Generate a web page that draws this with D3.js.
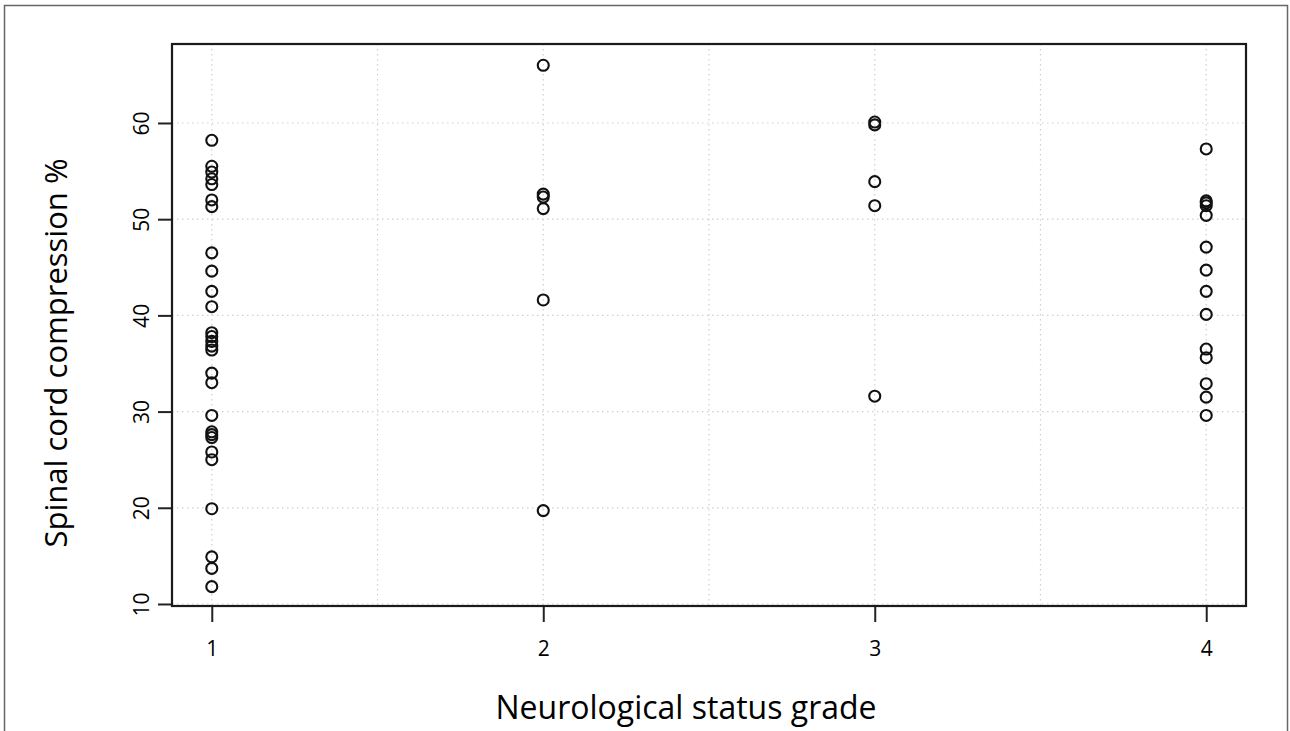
<!DOCTYPE html>
<html>
<head>
<meta charset="utf-8">
<script src="https://cdn.jsdelivr.net/npm/d3@7"></script>
<style>
  body { margin: 0; background: #fff; }
  svg { display: block; }
  .tick text { font-family: "Open Sans", "DejaVu Sans", sans-serif; }
</style>
</head>
<body>
<div class="chart"></div>
<script>
// neurological grade per point, and compression %
var grade1 = [58.2, 55.5, 54.9, 54.2, 53.6, 52.0, 51.3, 46.5, 44.6, 42.5, 40.9,
              38.2, 37.8, 37.3, 36.8, 36.4, 34.0, 33.0, 29.6, 27.9, 27.6, 27.3,
              25.8, 25.0, 19.9, 14.9, 13.7, 11.8];
var grade2 = [66.0, 52.6, 52.3, 51.1, 41.6, 19.7];
var grade3 = [60.1, 59.8, 53.9, 51.4, 31.6];
var grade4 = [57.3, 51.9, 51.7, 51.4, 50.4, 47.1, 44.7, 42.5, 40.1, 36.5, 35.6,
              32.9, 31.5, 29.6];

var xTicks = [1, 2, 3, 4];
var yTicks = [10, 20, 30, 40, 50, 60];
var xGrid = [1, 1.5, 2, 2.5, 3, 3.5, 4];

var xTitle = "Neurological status grade";
var yTitle = "Spinal cord compression %";

var width = 1290, height = 731;
var box = {left: 172, right: 1246, top: 44, bottom: 606};

var data = [];
[grade1, grade2, grade3, grade4].forEach(function(arr, i) {
    arr.forEach(function(v) { data.push({grade: i + 1, value: v}); });
});

var svg = d3.select("div.chart").append("svg")
    .attr("width", width)
    .attr("height", height);

// outer frame of the figure
svg.append("rect")
    .attr("x", 4.5).attr("y", 5.5)
    .attr("width", 1283).attr("height", 760)
    .attr("fill", "none")
    .attr("stroke", "#666")
    .attr("stroke-width", 1.5);

var xScale = d3.scaleLinear().domain([0.88, 4.12]).range([box.left, box.right]);
var yScale = d3.scaleLinear().domain([9.79, 68.21]).range([box.bottom, box.top]);

// dotted grid
svg.append("g").selectAll("line.vg")
    .data(xGrid).enter().append("line")
    .attr("x1", function(d) { return xScale(d); })
    .attr("x2", function(d) { return xScale(d); })
    .attr("y1", box.top).attr("y2", box.bottom)
    .attr("stroke", "#cfcfcf").attr("stroke-width", 1.2)
    .attr("stroke-dasharray", "1.5,3.5");

svg.append("g").selectAll("line.hg")
    .data(yTicks).enter().append("line")
    .attr("y1", function(d) { return yScale(d); })
    .attr("y2", function(d) { return yScale(d); })
    .attr("x1", box.left).attr("x2", box.right)
    .attr("stroke", "#cfcfcf").attr("stroke-width", 1.2)
    .attr("stroke-dasharray", "1.5,3.5");

// axes
var xAxis = d3.axisBottom(xScale).tickValues(xTicks).tickSize(16).tickPadding(19)
    .tickFormat(d3.format("d"));
var gx = svg.append("g")
    .attr("transform", "translate(0," + box.bottom + ")")
    .call(xAxis);
gx.select(".domain").remove();
gx.selectAll(".tick line").attr("stroke", "#222").attr("stroke-width", 2);
gx.selectAll(".tick text").attr("font-size", 21).attr("fill", "#000");

var yAxis = d3.axisLeft(yScale).tickValues(yTicks).tickSize(14).tickPadding(8);
var gy = svg.append("g")
    .attr("transform", "translate(" + box.left + ",0)")
    .call(yAxis);
gy.select(".domain").remove();
gy.selectAll(".tick line").attr("stroke", "#222").attr("stroke-width", 2);
gy.selectAll(".tick text")
    .attr("font-size", 21).attr("fill", "#000")
    .attr("x", null).attr("dy", null)
    .attr("text-anchor", "middle")
    .attr("transform", "translate(-23,0) rotate(-90)")
    .attr("y", 0);

// plot box
svg.append("rect")
    .attr("x", box.left).attr("y", box.top)
    .attr("width", box.right - box.left).attr("height", box.bottom - box.top)
    .attr("fill", "none")
    .attr("stroke", "#1a1a1a")
    .attr("stroke-width", 2.2);

// points
svg.append("g").selectAll("circle")
    .data(data).enter().append("circle")
    .attr("cx", function(d) { return xScale(d.grade); })
    .attr("cy", function(d) { return yScale(d.value); })
    .attr("r", 5.5)
    .attr("fill", "none")
    .attr("stroke", "#111")
    .attr("stroke-width", 2.1);

// titles
svg.append("text")
    .attr("x", 686).attr("y", 719)
    .attr("text-anchor", "middle")
    .attr("font-family", "Open Sans, DejaVu Sans, sans-serif")
    .attr("font-size", 32)
    .attr("fill", "#000")
    .text(xTitle);

svg.append("text")
    .attr("transform", "translate(67,353) rotate(-90)")
    .attr("text-anchor", "middle")
    .attr("font-family", "Open Sans, DejaVu Sans, sans-serif")
    .attr("font-size", 31)
    .attr("fill", "#000")
    .text(yTitle);
</script>
</body>
</html>
